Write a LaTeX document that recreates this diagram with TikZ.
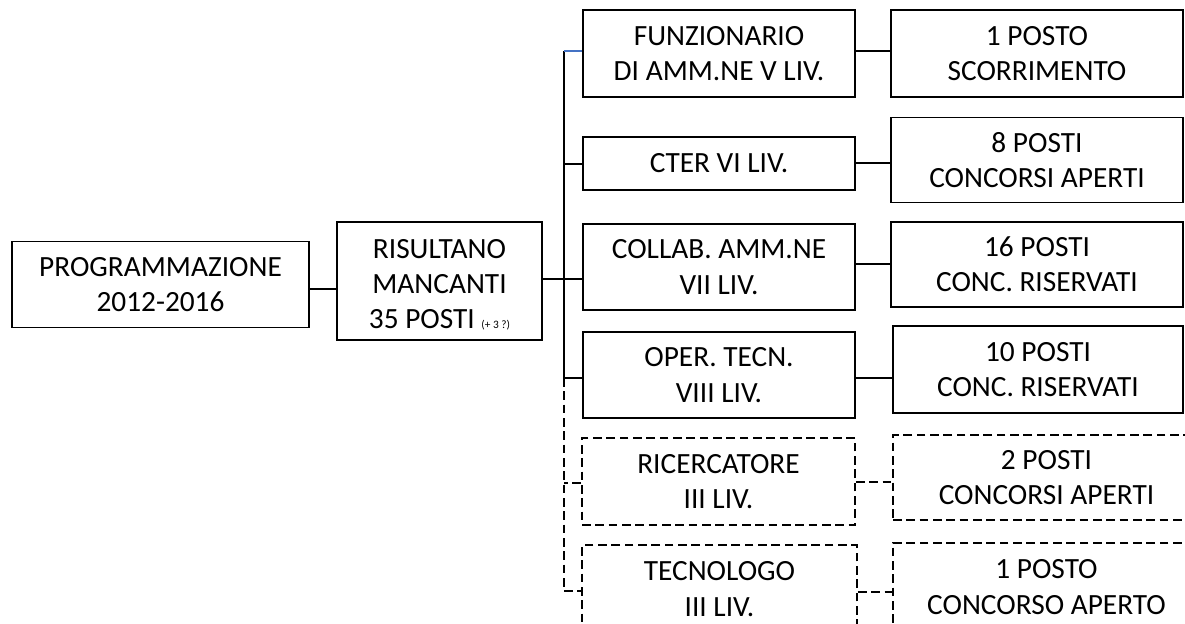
\documentclass[tikz,border=0pt]{standalone}
\usepackage{fontspec}
\setmainfont{Carlito}
\definecolor{wordblue}{RGB}{68,114,196}
\tikzset{
  ln/.style={line width=1.3pt, black},
  dsh/.style={dash pattern=on 6.5pt off 3.5pt},
  bx/.style={draw, line width=1.3pt, inner sep=0pt, align=center,
    font=\fontsize{22}{26.5}\selectfont},
  dbx/.style={bx, dsh},
  sz/.style 2 args={minimum width=#1*0.75pt, minimum height=#2*0.75pt},
}
\begin{document}
\begin{tikzpicture}[x=0.75pt, y=-0.75pt]
\useasboundingbox (0,0) rectangle (1185,624);
\clip (0,0) rectangle (1185,624);
% left boxes
\node[bx, sz={297}{86}] (prog) at (160.5,284.5) {PROGRAMMAZIONE\\2012-2016};
\node[bx, sz={205}{118}] (ris) at (439.5,281) {\rule{0pt}{20pt}RISULTANO\\MANCANTI\\35 POSTI {\fontsize{8.5}{10}\selectfont (+ 3 ?)}};
% middle boxes
\node[bx, sz={272}{87}] (funz) at (719,53.5) {FUNZIONARIO\\DI AMM.NE V LIV.};
\node[bx, sz={272}{53}] (cter) at (719,163.5) {CTER VI LIV.};
\node[bx, sz={272}{86}] (collab) at (719,267) {COLLAB. AMM.NE\\VII LIV.};
\node[bx, sz={272}{86}] (oper) at (719,375) {OPER. TECN.\\VIII LIV.};
\node[dbx, sz={273}{87}] (ric) at (718.5,481.5) {RICERCATORE\\III LIV.};
\node[dbx, sz={275}{88}] (tec) at (719.5,589) {TECNOLOGO\\III LIV.};
% right boxes
\node[bx, sz={292}{87}] (p1) at (1037,53.5) {1 POSTO\\SCORRIMENTO};
\node[bx, sz={292}{85}] (p8) at (1037,160) {8 POSTI\\CONCORSI APERTI};
\node[bx, sz={292}{85}] (p16) at (1037,264.5) {16 POSTI\\CONC. RISERVATI};
\node[bx, sz={290}{87}] (p10) at (1038,369.5) {10 POSTI\\CONC. RISERVATI};
\node[dbx, sz={307}{85}] (p2) at (1046.5,477.5) {2 POSTI\\CONCORSI APERTI};
\node[dbx, sz={307}{88}] (p1c) at (1046.5,587) {1 POSTO\\CONCORSO APERTO};
% trunk coordinates
\coordinate (ttop) at (564,51);
\coordinate (tmid) at (564,378);
\coordinate (tbot) at (564,591);
% connectors left
\draw[ln] (prog.east |- 0,289) -- (ris.west |- 0,289);
\draw[ln] (ris.east |- 0,279) -- (collab.west |- 0,279);
\draw[ln] (ttop) -- (tmid);
\draw[ln, dsh] (tmid) -- (tbot);
\draw[line width=1.3pt, wordblue] (ttop) -- (funz.west |- ttop);
\draw[ln] (cter.west |- 0,164) -- (ttop |- 0,164);
\draw[ln] (tmid) -- (oper.west |- tmid);
\draw[ln, dsh] (ric.west |- 0,483) -- (ttop |- 0,483);
\draw[ln, dsh] (tbot) -- (tec.west |- tbot);
% connectors right
\draw[ln] (funz.east |- 0,51) -- (p1.west |- 0,51);
\draw[ln] (cter.east |- 0,163) -- (p8.west |- 0,163);
\draw[ln] (collab.east |- 0,264) -- (p16.west |- 0,264);
\draw[ln] (oper.east |- 0,378) -- (p10.west |- 0,378);
\draw[ln, dsh] (ric.east |- 0,482) -- (p2.west |- 0,482);
\draw[ln, dsh] (tec.east |- 0,592) -- (p1c.west |- 0,592);
\end{tikzpicture}
\end{document}
